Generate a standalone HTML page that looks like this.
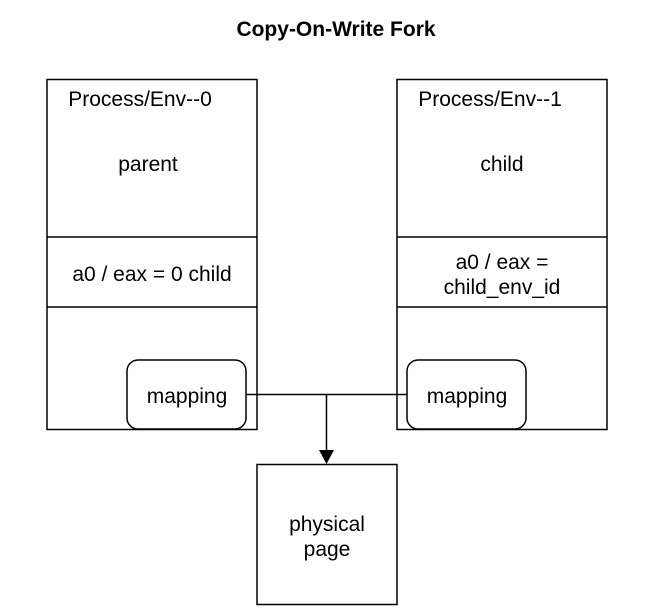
<!DOCTYPE html>
<html><head><meta charset="utf-8"><style>
html,body{margin:0;padding:0;background:#fff;overflow:hidden;}
svg{display:block;}
svg text{font-family:"Liberation Sans",sans-serif;font-size:21px;fill:#000;text-anchor:middle;}
</style></head><body>
<svg width="662" height="613" xmlns="http://www.w3.org/2000/svg">
<text x="336" y="36" style="font-weight:bold">Copy-On-Write Fork</text>
<g fill="none" stroke="#000" stroke-width="1.5">
<rect x="47" y="79.5" width="210" height="350"/>
<line x1="47" y1="237" x2="257" y2="237"/>
<line x1="47" y1="307" x2="257" y2="307"/>
<rect x="397" y="79.5" width="210" height="350"/>
<line x1="397" y1="237" x2="607" y2="237"/>
<line x1="397" y1="307" x2="607" y2="307"/>
<rect x="127" y="360" width="119" height="69" rx="11" fill="#fff"/>
<rect x="407" y="360" width="119" height="69" rx="11" fill="#fff"/>
<line x1="246" y1="394.5" x2="407" y2="394.5"/>
<line x1="326.5" y1="394.5" x2="326.5" y2="452"/>
<rect x="257" y="464.5" width="140" height="140"/>
</g>
<polygon points="319,450 334,450 326.5,464" fill="#000"/>
<text x="140" y="106">Process/Env--0</text>
<text x="148" y="171">parent</text>
<text x="152" y="281">a0 / eax = 0 child</text>
<text x="490" y="106">Process/Env--1</text>
<text x="502" y="171">child</text>
<text x="502" y="269">a0 / eax =</text>
<text x="502" y="294">child_env_id</text>
<text x="187" y="403">mapping</text>
<text x="467" y="403">mapping</text>
<text x="327" y="531">physical</text>
<text x="327" y="556">page</text>
</svg>
</body></html>
